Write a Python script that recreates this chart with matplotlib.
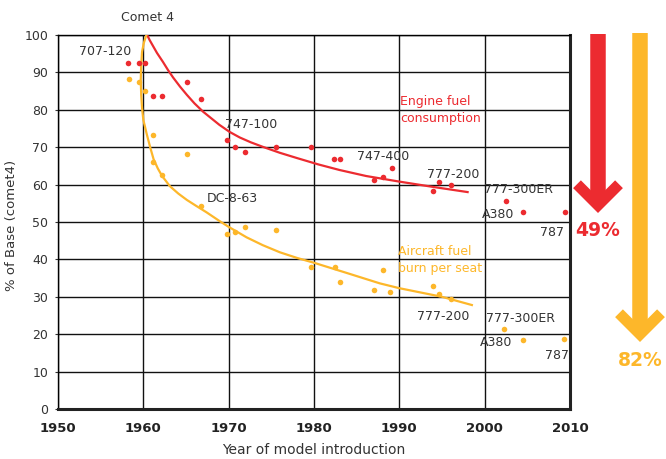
import numpy as np
import matplotlib
matplotlib.use("Agg")
import matplotlib.pyplot as plt
from matplotlib.lines import Line2D

W, H = 666, 459
RED = "#ec2b30"
YEL = "#fdb72a"
TXT = "#333333"

# engine fuel consumption (red dots)
engine_year = [1958.2, 1959.5, 1960.2, 1961.1, 1962.2, 1965.1, 1966.8, 1969.8, 1970.8, 1971.9,
               1975.6, 1979.7, 1982.4, 1983.0, 1987.0, 1988.1, 1989.1, 1994.0, 1994.6, 1996.1,
               2002.5, 2004.5, 2009.4]
engine_val = [92.5, 92.5, 92.5, 83.7, 83.7, 87.4, 82.9, 71.9, 70.0, 68.7,
              70.0, 70.0, 66.8, 66.8, 61.2, 62.0, 64.4, 58.3, 60.7, 59.9,
              55.6, 52.7, 52.7]

# aircraft fuel burn per seat (yellow dots)
seat_year = [1958.3, 1959.5, 1960.2, 1961.1, 1965.1, 1961.1, 1962.2, 1966.8, 1969.8, 1970.8,
             1971.9, 1975.6, 1979.6, 1982.5, 1983.0, 1987.0, 1988.1, 1988.9, 1994.0, 1994.6,
             1996.1, 2002.3, 2004.5, 2009.3]
seat_val = [88.2, 87.4, 85.0, 73.3, 68.2, 66.0, 62.6, 54.3, 46.8, 47.3,
            48.7, 47.9, 38.0, 38.0, 34.0, 31.8, 37.2, 31.3, 32.9, 30.7,
            29.4, 21.4, 18.4, 18.7]

# trend lines as drawn in the original
engine_fit_x = [1960.45, 1960.75, 1961.1, 1961.6, 1962.3, 1962.9, 1963.5, 1964.3, 1965.1, 1966.0,
                1967.0, 1968.9, 1970.1, 1971.3, 1972.6, 1974.0, 1976.0, 1978.0, 1980.5, 1983.0,
                1986.1, 1990.0, 1993.9, 1998.0]
engine_fit_y = [100.0, 98.6, 97.2, 95.2, 92.8, 90.6, 88.6, 86.2, 84.0, 81.7,
                79.5, 76.0, 74.1, 72.6, 71.3, 70.1, 68.5, 67.1, 65.4, 63.9,
                62.3, 60.8, 59.4, 58.0]
seat_fit_x = [1960.35, 1960.05, 1959.85, 1959.75, 1959.7, 1959.75, 1959.85, 1960.0, 1960.4, 1960.8,
              1961.2, 1961.7, 1962.2, 1963.1, 1964.1, 1965.1, 1966.2, 1967.4, 1968.9, 1970.0,
              1972.1, 1974.0, 1976.0, 1978.0, 1980.0, 1983.8, 1987.7, 1990.0, 1995.0, 1998.5]
seat_fit_y = [100.0, 97.8, 95.5, 92.0, 88.0, 84.0, 80.5, 77.3, 73.5, 70.0,
              66.8, 64.3, 62.3, 59.6, 57.6, 55.9, 54.3, 52.6, 50.3, 48.7,
              45.9, 43.8, 41.9, 40.4, 39.1, 36.4, 33.6, 32.3, 30.0, 27.8]

# labels: (text, x, y, colour)
labels = [
    ("707-120", 1952.5, 95.5, TXT),
    ("747-100", 1969.6, 76.2, TXT),
    ("DC-8-63", 1967.4, 56.4, TXT),
    ("747-400", 1985.0, 67.4, TXT),
    ("777-200", 1993.2, 62.6, TXT),
    ("777-300ER", 1999.9, 58.6, TXT),
    ("A380", 1999.7, 51.9, TXT),
    ("787", 2006.5, 47.1, TXT),
    ("Engine fuel\nconsumption", 1990.1, 79.9, RED),
    ("Aircraft fuel\nburn per seat", 1989.9, 39.8, YEL),
    ("777-200", 1992.1, 24.6, TXT),
    ("777-300ER", 2000.1, 24.3, TXT),
    ("A380", 1999.5, 17.9, TXT),
    ("787", 2007.1, 14.4, TXT),
]

fig = plt.figure(figsize=(W / 100, H / 100), dpi=100)
ax = fig.add_axes([58 / W, 1 - 409 / H, 512 / W, 374 / H])

ax.set_xlim(1950, 2010)
ax.set_ylim(0, 100)
ax.set_xticks(np.arange(1950, 2011, 10))
ax.set_yticks(np.arange(0, 101, 10))
ax.grid(True, color="#111111", lw=1.0)
ax.set_axisbelow(True)
ax.tick_params(axis="x", length=0, pad=9, labelsize=9.5, colors="#222222")
ax.tick_params(axis="y", length=2, pad=5, labelsize=9, colors=TXT)
for t in ax.get_xticklabels():
    t.set_fontweight("bold")
for s in ["left", "top"]:
    ax.spines[s].set_linewidth(1.0)
for s in ["right", "bottom"]:
    ax.spines[s].set_linewidth(2.2)
    ax.spines[s].set_color("#222222")

ax.plot(engine_fit_x, engine_fit_y, color=RED, lw=1.6, zorder=3, solid_joinstyle="round")
ax.plot(seat_fit_x, seat_fit_y, color=YEL, lw=1.6, zorder=3, solid_joinstyle="round")
ax.scatter(engine_year, engine_val, s=16, color=RED, zorder=4, clip_on=False, linewidths=0)
ax.scatter(seat_year, seat_val, s=16, color=YEL, zorder=4, clip_on=False, linewidths=0)

for txt, x, y, c in labels:
    ax.text(x, y, txt, color=c, fontsize=9, va="center", ha="left", linespacing=1.35, zorder=5)
ax.text(1960.5, 104.8, "Comet 4", color=TXT, fontsize=9, ha="center", va="center", clip_on=False)

ax.set_xlabel("Year of model introduction", fontsize=10, color=TXT, labelpad=6)
ax.set_ylabel("% of Base (comet4)", fontsize=9.5, color=TXT)
ax.yaxis.set_label_coords(-40 / 512, 0.49)


def fp(x, y):
    return x / W, 1 - y / H


def down_arrow(cx, top, tip, color, label):
    w = 11.0
    vy = tip - 0.707 * w
    arm = 21
    x0, y0 = fp(cx, top)
    x1, y1 = fp(cx, vy - 4)
    fig.lines.append(Line2D([x0, x1], [y0, y1], transform=fig.transFigure, color=color,
                            lw=15.5 * 0.72, solid_capstyle="butt"))
    xs, ys = zip(fp(cx - arm, vy - arm), fp(cx, vy), fp(cx + arm, vy - arm))
    fig.lines.append(Line2D(xs, ys, transform=fig.transFigure, color=color,
                            lw=w * 0.72, solid_capstyle="butt", solid_joinstyle="miter"))
    tx, ty = fp(cx, tip + 18)
    fig.text(tx, ty, label, color=color, fontsize=13.5, fontweight="bold", ha="center", va="center")


down_arrow(598, 34, 213, RED, "49%")
down_arrow(640, 33, 342, YEL, "82%")

fig.savefig("out.png", dpi=100)
